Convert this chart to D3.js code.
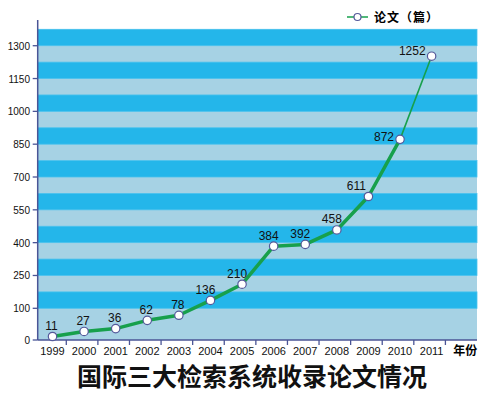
<!DOCTYPE html>
<html>
<head>
<meta charset="utf-8">
<script src="https://cdn.jsdelivr.net/npm/d3@7"></script>
<style>
  body { margin: 0; background: #fff; }
  text { font-family: "Liberation Sans", Arial, sans-serif; }
  .cjk { font-family: "Noto Sans CJK SC", sans-serif; font-weight: bold; }
</style>
</head>
<body>
<div id="vis"></div>
<script>
var width = 500,
  height = 398;

// Data
var years = [ '1999', '2000', '2001', '2002', '2003', '2004', '2005', '2006', '2007', '2008', '2009', '2010', '2011' ];
var papers = [ 11, 27, 36, 62, 78, 136, 210, 384, 392, 458, 611, 872, 1252 ];
var yTicks = [ 0, 100, 250, 400, 550, 700, 850, 1000, 1150, 1300 ];
var xUnit = '年份';
var seriesName = '论文（篇）';
var title = '国际三大检索系统收录论文情况';

// plot box (window.top is reserved, so no "top" here)
var plotLeft = 37.7,
  plotRight = 477,
  plotTop = 29.3,
  plotBottom = 340;

/* Scales */

// axis is broken: 0-100 takes the same height as a 150 step
var y = d3.scaleLinear()
  .domain( [ 0, 100, 1375 ] )
  .range( [ plotBottom, 308.3, plotTop ] );

var x = d3.scaleBand()
  .domain( years.concat( [ xUnit ] ) )
  .range( [ plotLeft - 1, plotRight + 2 ] );

var cx = ( d, i ) => x( years[ i ] ) + x.bandwidth() / 2;

var line = d3.line()
  .x( cx )
  .y( d => y( d ) );

/* Drawing */

var svg = d3.select( '#vis' ).append( 'svg' )
  .attr( 'width', width )
  .attr( 'height', height );

// Stripes
svg.append( 'rect' )
  .attr( 'x', plotLeft )
  .attr( 'y', plotTop )
  .attr( 'width', plotRight - plotLeft )
  .attr( 'height', plotBottom - plotTop )
  .attr( 'fill', '#a6d2e4' );

svg.selectAll( 'rect.stripe' )
  .data( yTicks.slice( 1 ) )
  .enter().append( 'rect' )
    .attr( 'class', 'stripe' )
    .attr( 'x', plotLeft )
    .attr( 'y', d => y( d + 75 ) )
    .attr( 'width', plotRight - plotLeft )
    .attr( 'height', d => y( d ) - y( d + 75 ) )
    .attr( 'fill', '#24b6ea' )
    .attr( 'stroke', '#4cc3ee' )
    .attr( 'stroke-width', 0.8 );

// Axes
var axisColor = '#4a5596';

svg.append( 'line' )
  .attr( 'x1', plotLeft ).attr( 'x2', plotLeft )
  .attr( 'y1', 20 ).attr( 'y2', plotBottom )
  .attr( 'stroke', axisColor )
  .attr( 'stroke-width', 1.5 );

svg.append( 'line' )
  .attr( 'x1', plotLeft ).attr( 'x2', plotRight )
  .attr( 'y1', plotBottom ).attr( 'y2', plotBottom )
  .attr( 'stroke', axisColor )
  .attr( 'stroke-width', 1.5 );

svg.selectAll( 'line.ytick' )
  .data( yTicks )
  .enter().append( 'line' )
    .attr( 'class', 'ytick' )
    .attr( 'x1', plotLeft - 5 ).attr( 'x2', plotLeft )
    .attr( 'y1', d => y( d ) ).attr( 'y2', d => y( d ) )
    .attr( 'stroke', axisColor )
    .attr( 'stroke-width', 1.3 );

svg.selectAll( 'text.ylabel' )
  .data( yTicks )
  .enter().append( 'text' )
    .attr( 'class', 'ylabel' )
    .attr( 'x', 30 )
    .attr( 'y', d => y( d ) + 4 )
    .attr( 'text-anchor', 'end' )
    .style( 'font-size', '10px' )
    .attr( 'fill', '#111' )
    .text( d => d );

svg.selectAll( 'line.xtick' )
  .data( years )
  .enter().append( 'line' )
    .attr( 'class', 'xtick' )
    .attr( 'x1', d => x( d ) + x.bandwidth() - 2 )
    .attr( 'x2', d => x( d ) + x.bandwidth() - 2 )
    .attr( 'y1', plotBottom ).attr( 'y2', plotBottom + 5 )
    .attr( 'stroke', axisColor )
    .attr( 'stroke-width', 1.3 );

svg.selectAll( 'text.xlabel' )
  .data( years )
  .enter().append( 'text' )
    .attr( 'class', 'xlabel' )
    .attr( 'x', d => x( d ) + x.bandwidth() / 2 )
    .attr( 'y', plotBottom + 15 )
    .attr( 'text-anchor', 'middle' )
    .style( 'font-size', '11px' )
    .attr( 'fill', '#111' )
    .text( d => d );

svg.append( 'text' )
  .attr( 'class', 'cjk' )
  .attr( 'x', x( xUnit ) + x.bandwidth() / 2 + 2 )
  .attr( 'y', plotBottom + 15 )
  .attr( 'text-anchor', 'middle' )
  .style( 'font-size', '12px' )
  .text( xUnit );

// Line
var green = '#17a04c';
var n = papers.length;

svg.append( 'path' )
  .datum( papers.slice( 0, -1 ) )
    .attr( 'd', line )
    .attr( 'fill', 'none' )
    .attr( 'stroke', green )
    .attr( 'stroke-width', 3.5 )
    .attr( 'stroke-linejoin', 'round' );

// last segment drawn thin, as in the original
svg.append( 'line' )
  .attr( 'x1', cx( papers[ n - 2 ], n - 2 ) )
  .attr( 'y1', y( papers[ n - 2 ] ) )
  .attr( 'x2', cx( papers[ n - 1 ], n - 1 ) )
  .attr( 'y2', y( papers[ n - 1 ] ) )
  .attr( 'stroke', green )
  .attr( 'stroke-width', 1.6 );

svg.selectAll( 'circle.point' )
  .data( papers )
  .enter().append( 'circle' )
    .attr( 'class', 'point' )
    .attr( 'cx', cx )
    .attr( 'cy', d => y( d ) )
    .attr( 'r', 4.2 )
    .attr( 'fill', '#fff' )
    .attr( 'stroke', '#55599a' )
    .attr( 'stroke-width', 1.2 );

// Value labels: above the point, to the left for the steep end
svg.selectAll( 'text.value' )
  .data( papers )
  .enter().append( 'text' )
    .attr( 'class', 'value' )
    .attr( 'x', ( d, i ) => cx( d, i ) + ( i >= n - 2 ? -6 : i == n - 3 ? -12 : i >= 5 ? -5 : -1 ) )
    .attr( 'y', ( d, i ) => y( d ) + ( i == n - 1 ? -1 : i == n - 2 ? 2 : -6.5 ) )
    .attr( 'text-anchor', ( d, i ) => i >= n - 2 ? 'end' : 'middle' )
    .style( 'font-size', '12px' )
    .attr( 'fill', '#111' )
    .text( d => d );

// Legend
svg.append( 'line' )
  .attr( 'x1', 347 ).attr( 'x2', 368 )
  .attr( 'y1', 17 ).attr( 'y2', 17 )
  .attr( 'stroke', green )
  .attr( 'stroke-width', 1.5 );

svg.append( 'circle' )
  .attr( 'cx', 357.5 ).attr( 'cy', 17 )
  .attr( 'r', 3.5 )
  .attr( 'fill', '#fff' )
  .attr( 'stroke', '#55599a' )
  .attr( 'stroke-width', 1.2 );

svg.append( 'text' )
  .attr( 'class', 'cjk' )
  .attr( 'x', 374 )
  .attr( 'y', 21.5 )
  .style( 'font-size', '12px' )
  .style( 'letter-spacing', '1px' )
  .text( seriesName );

// Title
svg.append( 'text' )
  .attr( 'class', 'cjk' )
  .attr( 'x', 252 )
  .attr( 'y', 386 )
  .attr( 'text-anchor', 'middle' )
  .style( 'font-size', '25px' )
  .attr( 'fill', '#111' )
  .text( title );
</script>
</body>
</html>
